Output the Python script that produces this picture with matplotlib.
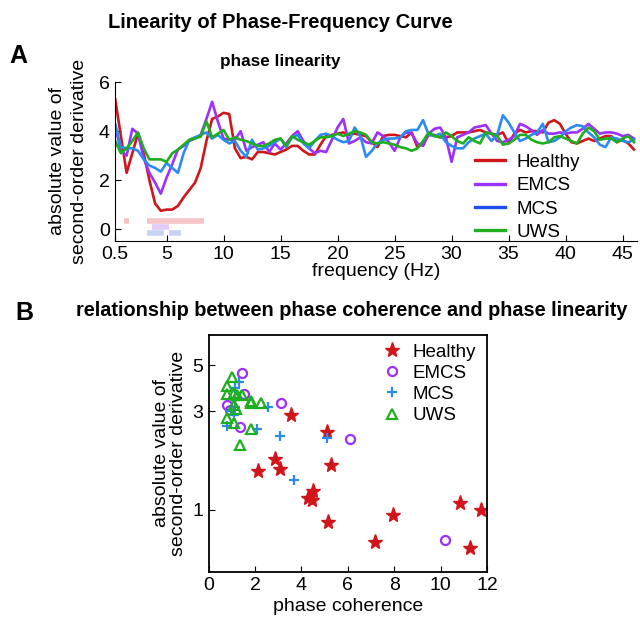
import numpy as np
import matplotlib
matplotlib.use('Agg')
import matplotlib.pyplot as plt
from matplotlib.lines import Line2D
from matplotlib.ticker import FixedLocator, NullLocator

plt.rcParams['font.family'] = ['Liberation Sans', 'DejaVu Sans']

# ---- panel A data: |second-order derivative| vs frequency (0.5 Hz grid) ----
freq = np.arange(0.5, 46.01, 0.5)

healthy = [5.3, 3.8, 2.3, 3.1, 3.9, 3.1, 2.0, 1.05, 0.75, 0.8,
           0.8, 0.95, 1.3, 1.6, 1.9, 2.5, 3.6, 4.5, 4.6, 4.75,
           4.7, 3.3, 2.9, 2.95, 2.85, 3.15, 3.15, 3.1, 3.05, 3.15,
           3.25, 3.4, 3.4, 3.2, 3.05, 3.05, 3.45, 3.8, 3.85, 3.9,
           3.95, 3.85, 3.9, 3.85, 3.8, 3.55, 3.35, 3.8, 3.85, 3.85,
           3.8, 3.75, 3.95, 3.35, 3.5, 3.85, 3.85, 3.75, 3.75, 3.8,
           3.95, 3.95, 3.95, 4.0, 4.05, 3.95, 3.9, 3.85, 3.95, 3.5,
           3.9, 4.05, 3.95, 4.0, 4.0, 3.95, 4.35, 4.45, 4.3, 3.9,
           3.55, 3.5, 3.6, 3.7, 3.6, 3.7, 3.8, 3.8, 3.55, 3.65,
           3.5, 3.25]
emcs = [4.2, 3.2, 3.0, 4.1, 3.9, 2.9, 2.3, 1.9, 1.45, 2.1,
        2.65, 3.25, 3.4, 3.6, 3.7, 3.85, 4.5, 5.2, 4.4, 3.7,
        3.65, 3.65, 4.0, 3.2, 3.35, 3.45, 3.55, 3.15, 3.5, 3.25,
        3.5, 3.8, 4.0, 3.6, 3.3, 3.1, 3.2, 3.15, 3.65, 4.15,
        4.5, 3.5, 3.6, 3.75, 3.55, 3.5, 3.95, 3.8, 3.55, 3.2,
        3.75, 3.95, 3.9, 3.5, 3.4, 3.9, 4.1, 4.15, 3.75, 2.75,
        3.75, 3.85, 3.95, 4.15, 4.2, 4.25, 3.9, 3.6, 3.55, 3.65,
        3.8, 4.3, 4.2, 4.05, 3.85, 4.05, 3.9, 3.9, 3.95, 3.9,
        3.95, 3.95, 4.1, 4.3, 4.1, 3.9, 3.95, 3.95, 3.9, 3.8,
        3.85, 3.7]
mcs = [4.3, 3.35, 3.3, 3.3, 3.2, 2.85, 2.6, 2.5, 2.35, 2.7,
       2.5, 2.3, 3.1, 3.65, 3.75, 3.85, 3.95, 3.7, 3.85, 3.65,
       3.5, 3.6, 3.2, 2.95, 3.65, 3.25, 3.3, 3.4, 3.55, 3.7,
       3.35, 3.75, 3.85, 3.5, 3.3, 3.6, 3.85, 3.9, 3.8, 3.65,
       3.55, 3.6, 4.15, 3.8, 2.95, 3.2, 3.5, 3.65, 3.7, 3.7,
       3.75, 4.0, 4.05, 4.05, 4.45, 3.85, 3.8, 3.9, 3.55, 3.4,
       3.3, 3.3, 3.55, 3.7, 3.8, 3.9, 3.6, 3.85, 4.65, 4.35,
       3.95, 3.6, 3.7, 3.85, 3.95, 4.3, 3.55, 3.6, 3.75, 4.0,
       4.15, 4.25, 4.2, 3.95, 3.75, 3.45, 3.35, 3.75, 3.7, 3.6,
       3.55, 3.65]
uws = [3.6, 3.1, 3.3, 3.6, 3.95, 3.3, 2.85, 2.85, 2.85, 2.75,
       3.1, 3.25, 3.45, 3.65, 3.7, 3.78, 4.4, 3.75, 3.9, 4.05,
       3.65, 3.75, 3.65, 3.6, 3.5, 3.4, 3.4, 3.5, 3.65, 3.7,
       3.4, 3.8, 3.65, 3.55, 3.45, 3.6, 3.75, 3.75, 3.8, 3.9,
       3.8, 3.9, 4.0, 3.95, 3.85, 3.55, 3.5, 3.55, 3.5, 3.45,
       3.35, 3.3, 3.2, 3.3, 3.6, 3.95, 3.8, 3.75, 3.95, 3.8,
       3.6, 3.5, 3.75, 3.6, 3.5, 3.95, 3.9, 3.8, 3.45, 3.5,
       3.65, 3.85, 3.85, 3.65, 3.55, 3.5, 3.55, 3.75, 3.8, 3.7,
       3.6, 3.5, 3.9, 4.15, 4.0, 3.65, 3.7, 3.7, 3.55, 3.7,
       3.8, 3.55]

# significant frequency ranges (start, end) in Hz
sig_healthy = [(1.25, 1.7), (3.25, 8.25)]
sig_emcs = [(3.75, 5.25)]
sig_mcs = [(3.25, 4.75), (5.2, 6.25)]

# ---- panel B data: phase coherence vs |second-order derivative| ----
h_coh = [3.56, 5.10, 2.86, 5.26, 2.11, 3.09, 4.50, 4.29, 4.46, 5.13, 10.85, 11.75, 7.94, 7.17, 11.25]
h_lin = [2.86, 2.38, 1.75, 1.64, 1.53, 1.57, 1.235, 1.14, 1.11, 0.87, 1.08, 1.0, 0.936, 0.70, 0.65]
e_coh = [1.43, 1.53, 0.77, 0.93, 3.14, 1.34, 6.09, 10.2]
e_lin = [4.59, 3.62, 3.22, 3.04, 3.28, 2.50, 2.19, 0.714]
m_coh = [1.29, 1.12, 1.12, 1.15, 1.10, 0.79, 2.10, 2.54, 3.07, 5.11, 3.70, 0.98]
m_lin = [4.14, 3.89, 3.41, 3.15, 2.87, 2.54, 2.45, 3.15, 2.27, 2.23, 1.39, 3.0]
u_coh = [1.02, 0.77, 0.77, 1.10, 1.23, 1.43, 1.82, 1.82, 2.26, 1.10, 1.20, 0.77, 1.10, 1.82, 1.37]
u_lin = [4.38, 3.96, 3.61, 3.65, 3.57, 3.57, 3.35, 3.27, 3.27, 3.20, 3.06, 2.78, 2.62, 2.45, 2.05]

groups = ['Healthy', 'EMCS', 'MCS', 'UWS']
c_red = '#d0151b'
c_purple = '#9b30ff'
c_blue = '#2a8cf0'
c_green = '#1fae1f'
c_blue_leg = '#1f4fe8'

fig = plt.figure(figsize=(6.4, 6.18), dpi=100)

# ------------------------------ panel A ------------------------------
ax1 = fig.add_axes([0.180, 0.6105, 0.816, 0.2565])
for vals, col in zip([healthy, emcs, mcs, uws], [c_red, c_purple, c_blue, c_green]):
    ax1.plot(freq, vals, color=col, lw=1.9)

for spans, col, yy in [(sig_healthy, '#f5c4c6', 0.33), (sig_emcs, '#e2cbf8', 0.1), (sig_mcs, '#c6d2f6', -0.15)]:
    for a, b in spans:
        ax1.plot([a, b], [yy, yy], color=col, lw=4.0, solid_capstyle='butt')

ax1.set_xlim(0.5, 46.3)
ax1.set_ylim(-0.47, 6)
ax1.set_xticks([0.5, 5, 10, 15, 20, 25, 30, 35, 40, 45])
ax1.set_xticklabels(['0.5', '5', '10', '15', '20', '25', '30', '35', '40', '45'])
ax1.set_yticks([0, 2, 4, 6])
ax1.tick_params(direction='in', labelsize=14, length=4, pad=4)
ax1.spines['top'].set_visible(False)
ax1.spines['right'].set_visible(False)
ax1.set_xlabel('frequency (Hz)', fontsize=14, labelpad=0)
ax1.set_ylabel('absolute value of\nsecond-order derivative', fontsize=14, labelpad=8, linespacing=1.35)

leg_handles = [Line2D([], [], color=c, lw=2.4) for c in [c_red, c_purple, c_blue_leg, c_green]]
ax1.legend(leg_handles, groups, loc='upper left', bbox_to_anchor=(0.675, 0.595), frameon=False,
           fontsize=13.5, handlelength=1.6, handletextpad=0.6, labelspacing=0.33, borderaxespad=0)

# ------------------------------ panel B ------------------------------
ax2 = fig.add_axes([0.326, 0.0749, 0.435, 0.383])
ax2.plot(h_coh, h_lin, ls='none', marker='*', ms=11, color=c_red, mec=c_red, label='Healthy')
ax2.plot(e_coh, e_lin, ls='none', marker='o', ms=6.5, mfc='none', mec=c_purple, mew=1.6, label='EMCS')
ax2.plot(m_coh, m_lin, ls='none', marker='+', ms=6.5, mec=c_blue, mew=1.6, label='MCS')
ax2.plot(u_coh, u_lin, ls='none', marker='^', ms=7.5, mfc='none', mec=c_green, mew=1.6, label='UWS')

ax2.set_yscale('log')
ax2.set_xlim(0, 12)
ax2.set_ylim(0.5, 7)
ax2.set_xticks([0, 2, 4, 6, 8, 10, 12])
ax2.yaxis.set_major_locator(FixedLocator([1, 3, 5]))
ax2.yaxis.set_minor_locator(NullLocator())
ax2.set_yticklabels(['1', '3', '5'])
ax2.tick_params(direction='in', labelsize=14, length=4, pad=4)
for sp in ax2.spines.values():
    sp.set_linewidth(1.3)
ax2.set_xlabel('phase coherence', fontsize=14, labelpad=3)
ax2.set_ylabel('absolute value of\nsecond-order derivative', fontsize=14, labelpad=4, linespacing=1.0)
ax2.legend(loc='upper right', bbox_to_anchor=(1.0, 1.012), frameon=False, fontsize=13.5,
           handlelength=1.0, handletextpad=0.6, labelspacing=0.22, borderaxespad=0.2, numpoints=1)

# ------------------------------ titles ------------------------------
fig.text(0.4375, 0.963, 'Linearity of Phase-Frequency Curve', ha='center', va='center',
         fontsize=14.5, fontweight='bold')
fig.text(0.4375, 0.901, 'phase linearity', ha='center', va='center',
         fontsize=12.3, fontweight='bold')
fig.text(0.028, 0.91, 'A', ha='center', va='center', fontsize=18, fontweight='bold')
fig.text(0.038, 0.494, 'B', ha='center', va='center', fontsize=18, fontweight='bold')
fig.text(0.549, 0.497, 'relationship between phase coherence and phase linearity', ha='center', va='center',
         fontsize=14.3, fontweight='bold')

fig.savefig('out.png', dpi=100)
